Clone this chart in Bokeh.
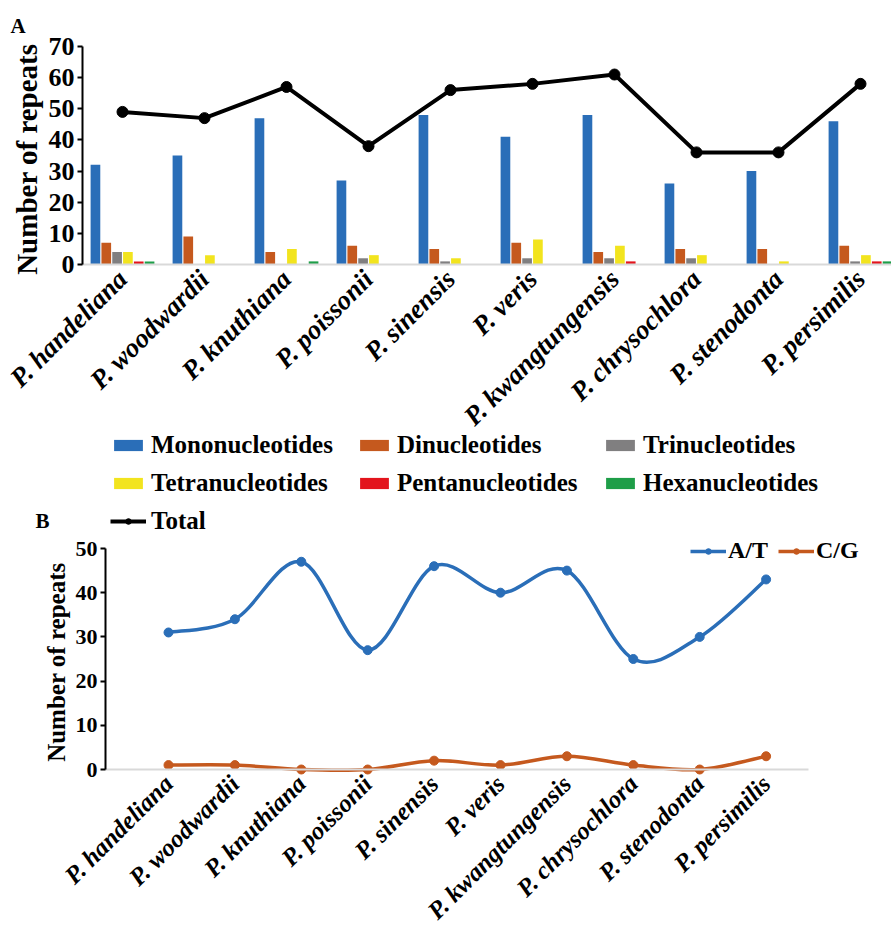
import math
import numpy as np
from bokeh.plotting import figure
from bokeh.models import Range1d, FixedTicker, Legend, LegendItem, Label
from bokeh.layouts import column
from bokeh.embed import file_html
from bokeh.resources import INLINE

# --- data -----------------------------------------------------------------
species = ["P. handeliana", "P. woodwardii", "P. knuthiana", "P. poissonii",
           "P. sinensis", "P. veris", "P. kwangtungensis", "P. chrysochlora",
           "P. stenodonta", "P. persimilis"]

mono = [32, 35, 47, 27, 48, 41, 48, 26, 30, 46]
di = [7, 9, 4, 6, 5, 7, 4, 5, 5, 6]
tri = [4, 0, 0, 2, 1, 2, 2, 2, 0, 1]
tetra = [4, 3, 5, 3, 2, 8, 6, 3, 1, 3]
penta = [1, 0, 0, 0, 0, 0, 1, 0, 0, 1]
hexa = [1, 0, 1, 0, 0, 0, 0, 0, 0, 1]
total = [49, 47, 57, 38, 56, 58, 61, 36, 36, 58]

at_repeats = [31, 34, 47, 27, 46, 40, 45, 25, 30, 43]
cg_repeats = [1, 1, 0, 0, 2, 1, 3, 1, 0, 3]

motif_names = ["Mononucleotides", "Dinucleotides", "Trinucleotides",
               "Tetranucleotides", "Pentanucleotides", "Hexanucleotides"]
y_ticks_a = [0, 10, 20, 30, 40, 50, 60, 70]
y_ticks_b = [0, 10, 20, 30, 40, 50]

# --- styling ----------------------------------------------------------------
FONT = "Liberation Serif"
motif_colors = ["#2a6eb8", "#c5591e", "#807f80", "#f2e41e", "#e3141c", "#1e9e48"]
AT_COLOR = "#2a6eb8"
CG_COLOR = "#c5591e"
AXIS_GRAY = "#d9d9d9"

W = 891
xpos = list(range(len(species)))
labels_map = {i: s for i, s in enumerate(species)}


def make_panel(height, x_range, y_range):
    # the frame fills the whole canvas; axes are pinned at fixed data locations
    p = figure(width=W, height=height, x_range=x_range, y_range=y_range,
               min_border=0, output_backend="svg", toolbar_location=None)
    p.title.visible = False
    p.grid.visible = False
    p.outline_line_color = None
    return p


def style_axes(p, y_at, x_bounds, yticks, tick_size, label_size, xlabel_size):
    ya = p.yaxis[0]
    ya.fixed_location = y_at
    ya.bounds = (yticks[0], yticks[-1])
    ya.ticker = FixedTicker(ticks=yticks)
    ya.axis_label = "Number of  repeats"
    ya.axis_label_text_font = FONT
    ya.axis_label_text_font_style = "bold"
    ya.axis_label_text_font_size = label_size
    ya.axis_label_text_color = "black"
    ya.axis_label_standoff = 3
    ya.major_label_text_font = FONT
    ya.major_label_text_font_style = "bold"
    ya.major_label_text_font_size = tick_size
    ya.major_label_text_color = "black"
    ya.major_label_standoff = 3
    ya.axis_line_color = "black"
    ya.axis_line_width = 2
    ya.major_tick_line_color = "black"
    ya.major_tick_line_width = 2
    ya.major_tick_out = 5
    ya.major_tick_in = 0
    ya.minor_tick_line_color = None

    xa = p.xaxis[0]
    xa.fixed_location = 0
    xa.bounds = x_bounds
    xa.ticker = FixedTicker(ticks=xpos)
    xa.major_label_overrides = labels_map
    xa.major_label_orientation = math.pi / 4
    xa.major_label_text_font = FONT
    xa.major_label_text_font_style = "bold italic"
    xa.major_label_text_font_size = xlabel_size
    xa.major_label_text_color = "black"
    xa.major_label_standoff = 4
    xa.axis_line_color = AXIS_GRAY
    xa.axis_line_width = 2
    xa.major_tick_line_color = None
    xa.minor_tick_line_color = None


def panel_letter(text, x, y, baseline):
    return Label(x=x, y=y, x_units="screen", y_units="screen", text=text,
                 text_font=FONT, text_font_style="bold", text_font_size="21px",
                 text_color="black", text_baseline=baseline)


# --- panel A: motif counts per species ---------------------------------------
HA = 536
step_a = 82.0            # pixels per species
ppu_a = 218.0 / 70.0     # pixels per repeat
x0_a = -122.0 / step_a
pa = make_panel(HA,
                Range1d(x0_a, x0_a + W / step_a),
                Range1d(-(HA - 264) / ppu_a, 70 + 46 / ppu_a))
style_axes(pa, (82 - 122) / step_a, ((82 - 122) / step_a, x0_a + W / step_a),
           y_ticks_a, "26px", "29px", "27px")

slot = 0.132
legend_items = []
for k, (name, vals, color) in enumerate(zip(motif_names,
                                            [mono, di, tri, tetra, penta, hexa],
                                            motif_colors)):
    xs = [i + (k - 2.5) * slot for i in xpos]
    r = pa.vbar(x=xs, top=vals, width=0.118, fill_color=color, line_color=None)
    legend_items.append(LegendItem(label=name, renderers=[r]))

tot_line = pa.line(x=xpos, y=total, line_color="black", line_width=4)
tot_pts = pa.scatter(x=xpos, y=total, size=11, fill_color="black", line_color="black")
legend_items.append(LegendItem(label="Total", renderers=[tot_line, tot_pts]))

leg_a = Legend(items=legend_items, orientation="horizontal", ncols=3,
               location=(110, 1),
               label_text_font=FONT, label_text_font_style="bold",
               label_text_font_size="25px", label_text_color="black",
               glyph_width=36, glyph_height=14, label_standoff=5,
               label_width=195, label_height=26, spacing=10,
               padding=0, margin=0, border_line_color=None,
               background_fill_alpha=0)
pa.add_layout(leg_a)
pa.add_layout(panel_letter("A", 10, HA - 25, "alphabetic"))
pa.add_layout(panel_letter("B", 35, 4, "bottom"))


# --- panel B: A/T and C/G mononucleotide repeats --------------------------------
def smooth_segments(xs, ys):
    """Catmull-Rom style cubic Bezier segments through the given points."""
    x = np.asarray(xs, dtype=float)
    y = np.asarray(ys, dtype=float)
    n = len(x)
    xp = np.concatenate([[x[0]], x, [x[-1]]])
    yp = np.concatenate([[y[0]], y, [y[-1]]])
    return dict(
        x0=x[:-1], y0=y[:-1], x1=x[1:], y1=y[1:],
        cx0=x[:-1] + (xp[2:n + 1] - xp[0:n - 1]) / 6.0,
        cy0=y[:-1] + (yp[2:n + 1] - yp[0:n - 1]) / 6.0,
        cx1=x[1:] - (xp[3:n + 2] - xp[1:n]) / 6.0,
        cy1=y[1:] - (yp[3:n + 2] - yp[1:n]) / 6.0,
    )


HB = 931 - HA
step_b = 66.4
top_b = 548              # pixel row of y=50
zero_b_abs = 769         # pixel row of y=0
ppu_b = (zero_b_abs - top_b) / 50.0
x0_b = -168.0 / step_b
zero_b = zero_b_abs - HA
pb = make_panel(HB,
                Range1d(x0_b, x0_b + W / step_b),
                Range1d(-(HB - zero_b) / ppu_b, 50 + (top_b - HA) / ppu_b))
style_axes(pb, (105 - 168) / step_b, ((105 - 168) / step_b, (808 - 168) / step_b),
           y_ticks_b, "22px", "25px", "25px")

items_b = []
for label, vals, color in [("A/T", at_repeats, AT_COLOR), ("C/G", cg_repeats, CG_COLOR)]:
    seg = smooth_segments(xpos, vals)
    curve = pb.bezier(x0=seg["x0"], y0=seg["y0"], x1=seg["x1"], y1=seg["y1"],
                      cx0=seg["cx0"], cy0=seg["cy0"], cx1=seg["cx1"], cy1=seg["cy1"],
                      line_color=color, line_width=3.5)
    pts = pb.scatter(x=xpos, y=vals, size=9, fill_color=color, line_color=color)
    items_b.append(LegendItem(label=label, renderers=[curve, pts]))

leg_b = Legend(items=items_b, orientation="horizontal", location=(690, HB - 28),
               label_text_font=FONT, label_text_font_style="bold",
               label_text_font_size="24px", label_text_color="black",
               glyph_width=36, glyph_height=14, label_standoff=2,
               label_height=26, spacing=10, padding=0, margin=0,
               border_line_color=None, background_fill_alpha=0)
pb.add_layout(leg_b)

layout = column(pa, pb, spacing=0)
open("out.html", "w").write(file_html(layout, INLINE))
